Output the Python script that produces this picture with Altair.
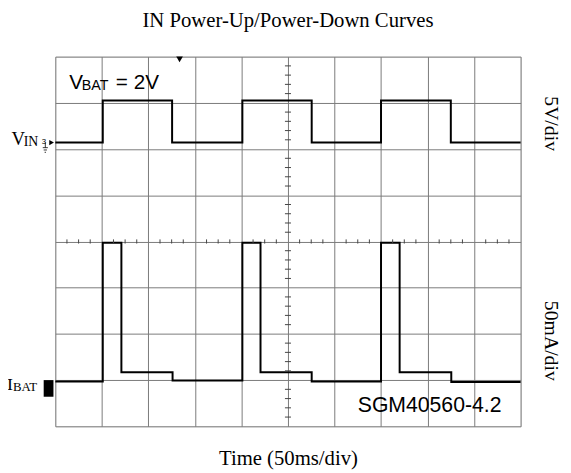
import altair as alt
import pandas as pd

# ---- data (in screen divisions: x 0..10, y 0..8) ----
VIN_T = [0, 1.02, 2.51, 4.02, 5.51, 7.0, 8.5, 10]
VIN_V = [6.14, 7.05, 6.14, 7.05, 6.14, 7.05, 6.14, 6.14]

IBAT_T = [0, 1.02, 1.42, 2.52, 4.02, 4.41, 5.51, 7.0, 7.40, 8.51, 10]
IBAT_V = [0.97, 3.97, 1.17, 0.99, 3.97, 1.17, 0.97, 3.97, 1.17, 0.96, 0.96]

X_DIVS = list(range(0, 11))
Y_DIVS = list(range(0, 9))

TITLE = "IN Power-Up/Power-Down Curves"
X_TITLE = "Time (50ms/div)"
VIN_SCALE = "5V/div"
IBAT_SCALE = "50mA/div"
PART = "SGM40560-4.2"

GRID = "#7a7a7a"
SERIF = "Liberation Serif"
SANS = "Liberation Sans"

vin = pd.DataFrame({"t": VIN_T, "v": VIN_V})
ibat = pd.DataFrame({"t": IBAT_T, "v": IBAT_V})

xs = alt.Scale(domain=[0, 10], nice=False, zero=False)
ys = alt.Scale(domain=[0, 8], nice=False, zero=False)

xaxis = alt.Axis(values=X_DIVS, grid=True, gridColor=GRID, gridOpacity=1, gridWidth=1,
                 labels=False, ticks=False, domain=False, title=X_TITLE,
                 titleFont=SERIF, titleFontSize=21, titleFontWeight="normal",
                 titleColor="black", titlePadding=22)
yaxis = alt.Axis(values=Y_DIVS, grid=True, gridColor=GRID, gridOpacity=1, gridWidth=1,
                 labels=False, ticks=False, domain=False, title=None)

vin_line = alt.Chart(vin).mark_line(interpolate="step-after", color="black", strokeWidth=2).encode(
    x=alt.X("t:Q", scale=xs, axis=xaxis),
    y=alt.Y("v:Q", scale=ys, axis=yaxis),
)
ibat_line = alt.Chart(ibat).mark_line(interpolate="step-after", color="black", strokeWidth=2).encode(
    x=alt.X("t:Q", scale=xs), y=alt.Y("v:Q", scale=ys)
)

# centre graticule minor ticks
h_ticks = pd.DataFrame({"x": [k * 0.25 for k in range(1, 40) if k % 4]})
h_ticks["y1"] = 4 - 0.045
h_ticks["y2"] = 4 + 0.045
v_ticks = pd.DataFrame({"y": [k * 0.2 for k in range(1, 40) if k % 5]})
v_ticks["x1"] = 5 - 0.065
v_ticks["x2"] = 5 + 0.065

ht = alt.Chart(h_ticks).mark_rule(color="#444", strokeWidth=1).encode(
    x=alt.X("x:Q", scale=xs), y=alt.Y("y1:Q", scale=ys), y2="y2:Q")
vt = alt.Chart(v_ticks).mark_rule(color="#444", strokeWidth=1).encode(
    y=alt.Y("y:Q", scale=ys), x=alt.X("x1:Q", scale=xs), x2="x2:Q")

# markers
trig = alt.Chart(pd.DataFrame({"x": [2.67], "y": [7.94]})).mark_point(
    shape="triangle-down", filled=True, color="black", size=45, opacity=1).encode(
    x=alt.X("x:Q", scale=xs), y=alt.Y("y:Q", scale=ys))
vin_arrow = alt.Chart(pd.DataFrame({"x": [-0.08], "y": [6.14]})).mark_point(
    shape="triangle-right", filled=True, color="black", size=30, opacity=1).encode(
    x=alt.X("x:Q", scale=xs), y=alt.Y("y:Q", scale=ys))
ibat_box = alt.Chart(pd.DataFrame({"x1": [-0.25], "x2": [-0.04], "y1": [0.64], "y2": [1.0]})).mark_rect(
    color="black").encode(x=alt.X("x1:Q", scale=xs), x2="x2:Q", y=alt.Y("y1:Q", scale=ys), y2="y2:Q")

# ground symbol next to the VIN marker
gnd = pd.DataFrame({
    "x1": [-0.215, -0.27, -0.25, -0.23],
    "x2": [-0.215, -0.16, -0.18, -0.20],
    "y1": [6.14, 6.03, 5.98, 5.93],
    "y2": [6.03, 6.03, 5.98, 5.93],
})
gnd_l = alt.Chart(gnd).mark_rule(color="black", strokeWidth=0.8).encode(
    x=alt.X("x1:Q", scale=xs), x2="x2:Q", y=alt.Y("y1:Q", scale=ys), y2="y2:Q")
gnd_h = alt.Chart(pd.DataFrame({"x": [-0.29], "y": [6.1], "t": ["3"]})).mark_text(
    font=SANS, fontSize=8, align="left", baseline="alphabetic", color="black").encode(
    x=alt.X("x:Q", scale=xs), y=alt.Y("y:Q", scale=ys), text="t:N")


def label(x, y, t, font, size, align="left", baseline="alphabetic", angle=0):
    return alt.Chart(pd.DataFrame({"x": [x], "y": [y], "t": [t]})).mark_text(
        font=font, fontSize=size, align=align, baseline=baseline, angle=angle, color="black"
    ).encode(x=alt.X("x:Q", scale=xs), y=alt.Y("y:Q", scale=ys), text="t:N")


texts = [
    label(0.30, 7.31, "V", SANS, 21),
    label(0.57, 7.27, "BAT", SANS, 14.5),
    label(1.30, 7.31, " = 2V", SANS, 21),
    label(6.5, 0.31, PART, SANS, 21.5),
    label(-0.94, 6.08, "V", SERIF, 19),
    label(-0.68, 6.06, "IN", SERIF, 14),
    label(-1.04, 0.78, "I", SERIF, 18),
    label(-0.91, 0.76, "BAT", SERIF, 13),
    label(10.66, 6.55, VIN_SCALE, SERIF, 20, align="center", baseline="middle", angle=90),
    label(10.66, 1.85, IBAT_SCALE, SERIF, 20, align="center", baseline="middle", angle=90),
]

chart = alt.layer(vin_line, ibat_line, ht, vt, trig, vin_arrow, ibat_box, gnd_l, gnd_h, *texts).properties(
    width=472, height=375,
    title=alt.Title(TITLE, font=SERIF, fontSize=21, fontWeight="normal", color="black",
                    anchor="middle", offset=26),
    padding={"left": 48, "top": 46, "right": 43, "bottom": 42},
    autosize=alt.AutoSizeParams(type="none"),
).configure_view(stroke="#8c8c8c", strokeWidth=1.5).configure(background="white")

chart.save("out.html", embed_options={"renderer": "svg", "actions": False})
